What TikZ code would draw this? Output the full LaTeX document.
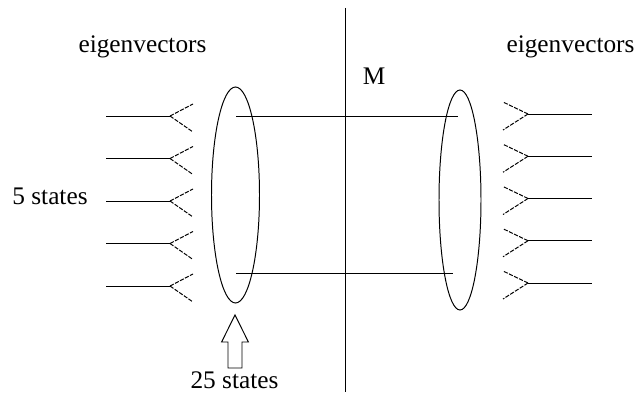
\documentclass[tikz,border=0pt]{standalone}
\usepackage{fontspec}
\setmainfont{Liberation Serif}
\usepackage{tikz}
\usetikzlibrary{shapes.geometric}

\begin{document}
\begin{tikzpicture}[line width=0.7pt,
    txt/.style={font=\fontsize{18}{21}\selectfont, inner sep=0pt, anchor=base},
    fork/.style={dash pattern=on 3pt off 1pt},
    lens/.style={draw, ellipse, inner sep=0pt}]
    \useasboundingbox (0,0) rectangle (15.9,-10.05);

    % Labels
    \node[txt] (eigL) at (3.5625,-1.325) {eigenvectors};
    \node[txt] (eigR) at (14.2625,-1.325) {eigenvectors};
    \node[txt] (five) at (1.25,-5.125) {5 states};
    \node[txt] (twentyfive) at (5.8625,-9.7) {25 states};
    \node[txt] (mlab) at (9.35,-2.125) {M};

    % Ellipses
    \node[lens, minimum width=1.2cm, minimum height=5.4cm] (ellL) at (5.8875,-4.875) {};
    \node[lens, minimum width=1.05cm, minimum height=5.5cm] (ellR) at (11.5,-5.0) {};

    % Mirror line
    \coordinate (mTop) at (8.625,-0.2);
    \coordinate (mBot) at (8.625,-9.8);
    \draw (mTop) -- (mBot);

    % Horizontal lines
    \coordinate (hA) at (5.9,-2.9);
    \coordinate (hB) at (11.45,-2.9);
    \coordinate (hC) at (5.9,-6.825);
    \coordinate (hD) at (11.325,-6.825);
    \draw (hA) -- (hB);
    \draw (hC) -- (hD);

    % Left states
    \foreach \i in {0,...,4} {
        \coordinate (inL\i) at (2.65,{-2.9-1.0625*\i});
        \coordinate (fkL\i) at (4.25,{-2.9-1.0625*\i});
        \coordinate (upL\i) at (4.825,{-2.9-1.0625*\i+0.3});
        \coordinate (dnL\i) at (4.825,{-2.9-1.0625*\i-0.4});
        \draw (inL\i) -- (fkL\i);
        \draw[fork] (fkL\i) -- (upL\i);
        \draw[fork] (fkL\i) -- (dnL\i);
    }

    % Right states
    \foreach \i in {0,...,4} {
        \coordinate (outR\i) at (14.8,{-2.85-1.05625*\i});
        \coordinate (fkR\i) at (13.2,{-2.85-1.05625*\i});
        \coordinate (upR\i) at (12.575,{-2.85-1.05625*\i+0.3});
        \coordinate (dnR\i) at (12.575,{-2.85-1.05625*\i-0.4});
        \draw (fkR\i) -- (outR\i);
        \draw[fork] (fkR\i) -- (upR\i);
        \draw[fork] (fkR\i) -- (dnR\i);
    }

    % Hollow arrow
    \coordinate (arrTip) at (5.875,-7.875);
    \draw (arrTip) -- ++(0.335,-0.675) -- ++(-0.16,0) -- ++(0,-0.65) -- ++(-0.35,0)
        -- ++(0,0.65) -- ++(-0.16,0) -- cycle;
\end{tikzpicture}
\end{document}
